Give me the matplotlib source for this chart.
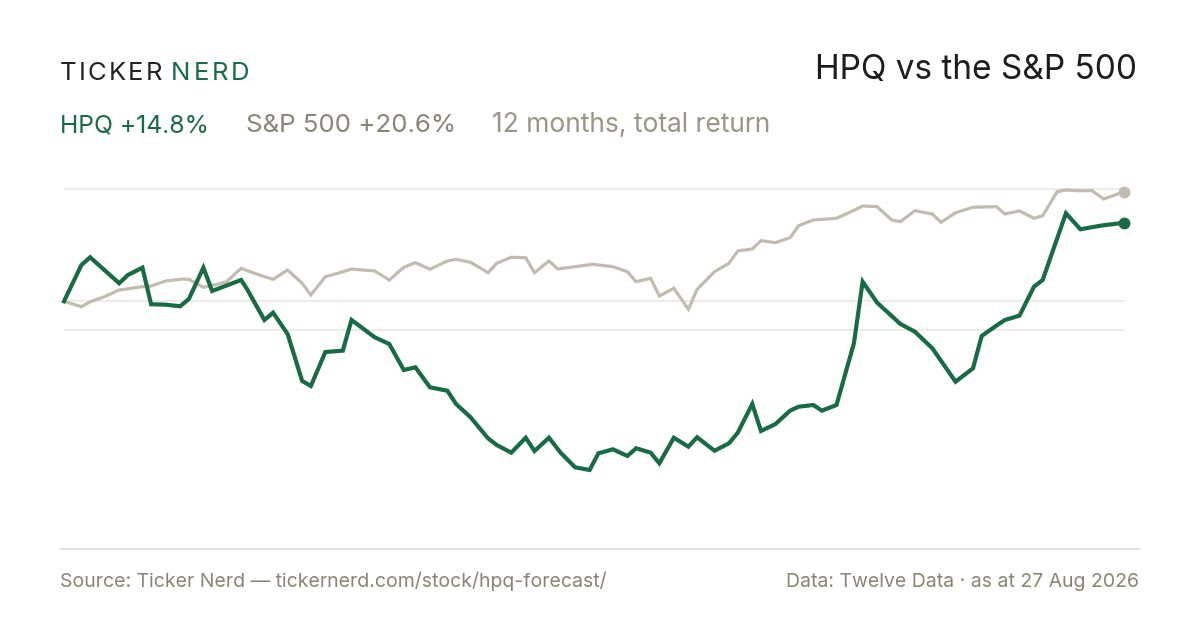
import matplotlib
matplotlib.use("Agg")
import matplotlib.pyplot as plt

plt.rcParams["font.family"] = ["Inter", "DejaVu Sans"]

# 12 months of total return (%), sampled on calendar-day offsets
hpq_day = [0, 6, 9, 19, 22, 27, 30, 35, 40, 43, 48, 51, 61, 63, 69, 72, 77, 82, 85,
           90, 96, 99, 107, 112, 117, 121, 126, 132, 135, 140, 146, 149, 154, 159,
           162, 167, 171, 176, 181, 184, 189, 194, 197, 202, 205, 210, 215, 218,
           224, 229, 232, 237, 240, 245, 250, 253, 258, 261, 266, 272, 275, 280,
           288, 293, 299, 307, 313, 316, 321, 324, 329, 334, 337, 345, 350, 357, 365]
hpq_ret = [0.0, 6.84, 8.29, 3.39, 4.95, 6.33, -0.56, -0.64, -0.94, 0.43, 6.33, 1.94,
           4.01, 2.32, -3.52, -2.15, -6.16, -15.0, -15.95, -9.55, -9.30, -3.52, -6.78,
           -8.04, -12.94, -12.43, -16.20, -16.84, -19.34, -21.85, -25.80, -27.06,
           -28.51, -25.69, -28.19, -25.69, -28.51, -31.26, -31.77, -28.63, -27.87,
           -29.13, -27.68, -28.51, -30.51, -25.69, -27.38, -25.61, -28.14, -26.74,
           -24.75, -19.34, -24.43, -23.11, -20.60, -19.85, -19.53, -20.60, -19.53,
           -7.91, 3.69, -0.26, -4.27, -5.73, -8.85, -15.14, -12.62, -6.53, -4.60,
           -3.52, -2.71, 2.75, 4.01, 16.57, 13.56, 14.24, 14.8]

spx_day = [0, 6, 9, 14, 19, 27, 30, 35, 41, 43, 48, 51, 56, 61, 65, 69, 72, 77, 82,
           85, 90, 95, 99, 107, 112, 117, 121, 126, 132, 135, 140, 146, 149, 154,
           159, 162, 167, 170, 176, 182, 189, 194, 197, 202, 205, 210, 215, 218,
           224, 229, 232, 237, 240, 245, 250, 253, 258, 266, 271, 275, 280, 285,
           288, 293, 299, 302, 307, 313, 321, 324, 329, 334, 337, 342, 345, 349,
           354, 358, 365]
spx_ret = [0.0, -1.02, -0.08, 0.87, 2.13, 2.75, 2.88, 3.82, 4.20, 4.14, 2.64, 2.94,
           3.69, 6.21, 5.39, 4.63, 4.14, 5.89, 3.39, 1.19, 4.63, 5.39, 6.08, 5.71,
           4.01, 6.40, 7.27, 6.03, 7.59, 7.91, 7.34, 5.39, 7.16, 8.29, 8.21, 5.39,
           7.59, 6.08, 6.52, 6.97, 6.52, 5.57, 3.69, 4.33, 1.00, 2.45, -1.51, 2.26,
           5.57, 7.16, 9.47, 9.85, 11.41, 11.04, 11.98, 14.24, 15.31, 15.63, 16.87,
           17.95, 17.82, 15.31, 14.99, 17.06, 16.44, 14.88, 16.69, 17.70, 17.82,
           16.44, 17.01, 15.63, 16.12, 20.64, 20.96, 20.83, 20.83, 19.27, 20.6]

grid_vals = [21.1, 0.0, -5.35]

GREEN = "#186b45"
SAND = "#c2bbb0"
MUTED = "#8a8475"

fig = plt.figure(figsize=(12, 6.3), dpi=100)
fig.patch.set_facecolor("white")

ax = fig.add_axes([64 / 1200, 130 / 630, 1060 / 1200, 320 / 630])
ax.set_xlim(0, 365)
ax.set_ylim(-37.42, 22.84)
ax.axis("off")

for g in grid_vals:
    ax.axhline(g, color="#ebe8e2", lw=1.2, zorder=1)

ax.plot(spx_day, spx_ret, color=SAND, lw=2.3, solid_joinstyle="miter",
        zorder=2, clip_on=False)
ax.plot(hpq_day, hpq_ret, color=GREEN, lw=3.0, solid_joinstyle="miter",
        zorder=3, clip_on=False)
ax.plot(spx_day[-1], spx_ret[-1], "o", color=SAND, ms=7.5, zorder=4, clip_on=False)
ax.plot(hpq_day[-1], hpq_ret[-1], "o", color=GREEN, ms=7.5, zorder=5, clip_on=False)

# header
renderer = fig.canvas.get_renderer()


def tracked(word, x0, x1, y, color, size):
    # spread the letters of a word between x0 and x1 (pixels)
    parts = [fig.text(0, y / 630, ch, fontsize=size, color=color, va="baseline")
             for ch in word]
    widths = [p.get_window_extent(renderer).width for p in parts]
    gap = (x1 - x0 - sum(widths)) / (len(word) - 1)
    x = x0
    for p, w in zip(parts, widths):
        p.set_x(x / 1200)
        x += w + gap


tracked("TICKER", 60, 162, 630 - 79.5, "#222222", 18.5)
tracked("NERD", 171, 249.5, 630 - 79.5, GREEN, 18.5)

fig.text(1137 / 1200, (630 - 79) / 630, "HPQ vs the S&P 500", fontsize=24,
         color="#1d1d1d", ha="right", va="baseline")

sub_y = (630 - 132) / 630
fig.text(60 / 1200, sub_y, "HPQ +14.8%", fontsize=17.8, color=GREEN, va="baseline")
fig.text(246 / 1200, sub_y, "S&P 500 +20.6%", fontsize=18.6, color=MUTED, va="baseline")
fig.text(492 / 1200, sub_y, "12 months, total return", fontsize=19, color="#9a9588",
         va="baseline")

# footer
fig.add_artist(plt.Line2D([60 / 1200, 1140 / 1200], [(630 - 548.5) / 630] * 2,
                          color="#dedad2", lw=1.2))
foot_y = (630 - 587) / 630
fig.text(60 / 1200, foot_y, "Source: Ticker Nerd — tickernerd.com/stock/hpq-forecast/",
         fontsize=14, color=MUTED, va="baseline")
fig.text(1139 / 1200, foot_y, "Data: Twelve Data · as at 27 Aug 2026",
         fontsize=14, color=MUTED, ha="right", va="baseline")

fig.savefig("out.png", dpi=100, facecolor="white")
